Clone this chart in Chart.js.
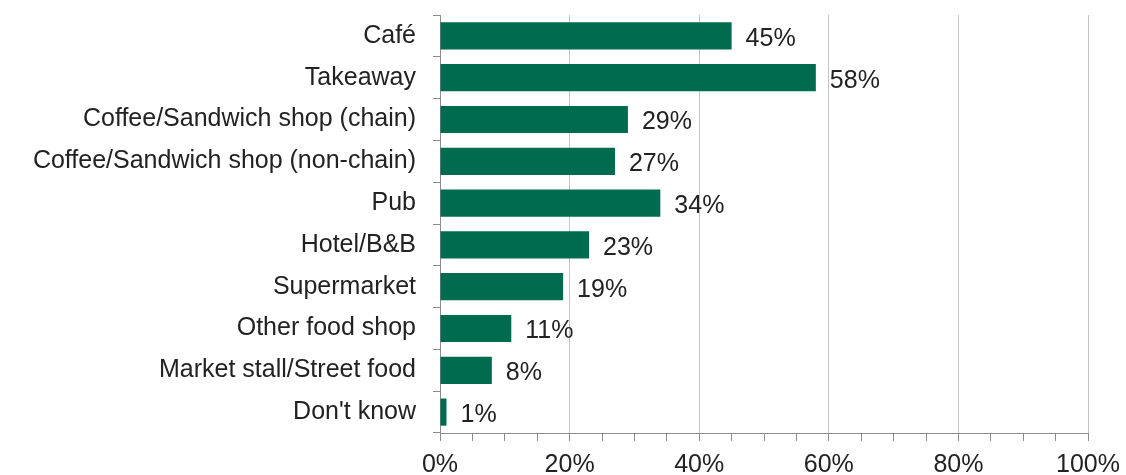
<!DOCTYPE html>
<html>
<head>
<meta charset="utf-8">
<script src="https://cdn.jsdelivr.net/npm/chart.js@4/dist/chart.umd.min.js"></script>
<style>
html,body{margin:0;padding:0;background:#fff;}
#wrap{width:1126px;height:475px;position:relative;}
</style>
</head>
<body>
<div id="wrap"><canvas id="c" width="1126" height="475"></canvas></div>
<script>
const categories = ["Café","Takeaway","Coffee/Sandwich shop (chain)","Coffee/Sandwich shop (non-chain)","Pub","Hotel/B&B","Supermarket","Other food shop","Market stall/Street food","Don't know"];
const values = [45,58,29,27,34,23,19,11,8,1];
const xTicks = [0,20,40,60,80,100];

const FONT = "'Liberation Sans', Arial, sans-serif";
const GREEN = "#006B4E";
const TEXT = "#222222";
const FS = 25;

const valueLabels = {
  id: 'valueLabels',
  afterDatasetsDraw(chart) {
    const ctx = chart.ctx;
    const meta = chart.getDatasetMeta(0);
    ctx.save();
    ctx.font = FS + "px " + FONT;
    ctx.fillStyle = TEXT;
    ctx.textAlign = 'left';
    ctx.textBaseline = 'middle';
    meta.data.forEach((bar, i) => {
      ctx.fillText(values[i] + '%', bar.x + 14, bar.y + 3);
    });
    ctx.restore();
  }
};

new Chart(document.getElementById('c'), {
  type: 'bar',
  data: {
    labels: categories,
    datasets: [{
      data: values,
      backgroundColor: GREEN,
      borderWidth: 0,
      categoryPercentage: 1,
      barPercentage: 0.65
    }]
  },
  options: {
    indexAxis: 'y',
    responsive: false,
    animation: false,
    devicePixelRatio: 1,
    layout: { padding: { top: 0, right: 38, left: 0, bottom: 0 } },
    plugins: { legend: { display: false }, tooltip: { enabled: false } },
    scales: {
      x: {
        min: 0, max: 100,
        afterFit: s => { s.height = 42; s.paddingLeft = 0; s.paddingRight = 0; },
        afterBuildTicks: s => {
          const t = [];
          for (let v = 0; v <= 100; v += 5) t.push({ value: v });
          s.ticks = t;
        },
        ticks: {
          font: { family: FONT, size: FS },
          color: TEXT,
          padding: 9,
          maxRotation: 0,
          autoSkip: false,
          callback: v => xTicks.includes(v) ? v + '%' : ''
        },
        grid: {
          color: c => (c.tick && c.tick.value % 20 === 0 && c.tick.value !== 0) ? '#c4c4c4' : 'rgba(0,0,0,0)',
          tickColor: '#8c8c8c',
          tickLength: 8,
          lineWidth: 1
        },
        border: { display: true, color: '#8c8c8c', width: 1 }
      },
      y: {
        afterFit: s => { s.width = 440; s.paddingTop = 15; s.paddingBottom = 0; },
        ticks: {
          font: { family: FONT, size: FS },
          color: TEXT,
          padding: 17,
          autoSkip: false
        },
        grid: {
          display: true,
          offset: true,
          drawOnChartArea: false,
          tickColor: '#8c8c8c',
          tickLength: 7
        },
        border: { display: true, color: '#8c8c8c', width: 1 }
      }
    }
  },
  plugins: [valueLabels]
});
</script>
</body>
</html>
